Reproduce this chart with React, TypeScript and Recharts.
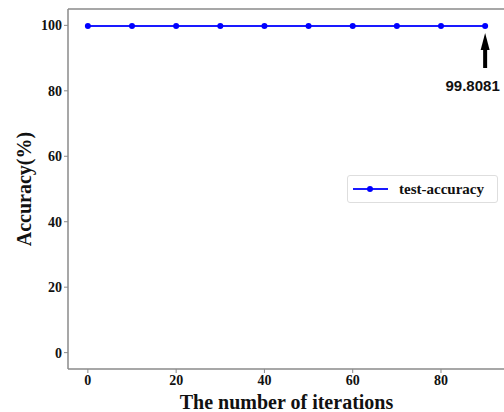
import React from "react";
import {
  LineChart,
  Line,
  XAxis,
  YAxis,
  ReferenceDot,
  ReferenceLine,
} from "recharts";

const iterations = [0, 10, 20, 30, 40, 50, 60, 70, 80, 90];
const testAccuracy = [99.8, 99.8, 99.8, 99.8, 99.8, 99.8, 99.8, 99.8, 99.8, 99.8081];
const xTicks = [0, 20, 40, 60, 80];
const yTicks = [0, 20, 40, 60, 80, 100];
const annotationText = "99.8081";
const seriesName = "test-accuracy";

const data = iterations.map((it, i) => ({ it, acc: testAccuracy[i] }));

const serif = "'Liberation Serif', 'Times New Roman', serif";
const sans = "'Liberation Sans', Arial, sans-serif";
const axisGrey = "#8a8a8a";

const ArrowShape = (props: any) => {
  const { cx, cy } = props;
  if (cx == null || cy == null) return null;
  const tipY = cy + 7;
  const headEnd = tipY + 17;
  const tailY = cy + 42;
  return (
    <g>
      <line x1={cx} y1={headEnd - 2} x2={cx} y2={tailY} stroke="#000" strokeWidth={4} />
      <polygon
        points={`${cx},${tipY} ${cx - 4.5},${headEnd} ${cx + 4.5},${headEnd}`}
        fill="#000"
      />
      <text
        x={cx - 12.5}
        y={cy + 65}
        textAnchor="middle"
        fontFamily={sans}
        fontWeight="bold"
        fontSize={15}
        fill="#111"
      >
        {annotationText}
      </text>
    </g>
  );
};

const LegendBox = () => (
  <div
    style={{
      position: "absolute",
      left: 347,
      top: 175,
      width: 151,
      height: 28,
      boxSizing: "border-box",
      border: "1px solid #dedede",
      borderRadius: 3,
      background: "#fff",
      display: "flex",
      alignItems: "center",
    }}
  >
    <svg width={48} height={26} style={{ display: "block" }}>
      <line x1={5} y1={13} x2={40} y2={13} stroke="#1a1aff" strokeWidth={2} />
      <circle cx={22} cy={13} r={3} fill="#0000ff" />
    </svg>
    <span
      style={{
        fontFamily: serif,
        fontWeight: "bold",
        fontSize: 15,
        color: "#111",
        marginLeft: 3,
      }}
    >
      {seriesName}
    </span>
  </div>
);

export default function App() {
  return (
    <div
      style={{
        position: "fixed",
        left: 0,
        top: 0,
        width: 504,
        height: 412,
        overflow: "hidden",
        background: "#fff",
      }}
    >
      <LineChart
        width={530}
        height={412}
        data={data}
        margin={{ top: 9, right: 25, bottom: 0, left: 0 }}
      >
        <XAxis
          dataKey="it"
          type="number"
          domain={[-4.5, 94.5]}
          ticks={xTicks}
          height={43}
          tickSize={4}
          tickLine={{ stroke: axisGrey }}
          axisLine={{ stroke: axisGrey, strokeWidth: 1.5 }}
          tick={{ fontFamily: serif, fontWeight: "bold", fontSize: 14, fill: "#111" }}
          label={{
            value: "The number of iterations",
            position: "insideBottom",
            offset: 3,
            style: { fontFamily: serif, fontWeight: "bold", fontSize: 20, fill: "#111" },
          }}
        />
        <YAxis
          type="number"
          domain={[-5, 105]}
          ticks={yTicks}
          width={68}
          tickSize={4}
          tickLine={{ stroke: axisGrey }}
          axisLine={{ stroke: axisGrey, strokeWidth: 1.5 }}
          tick={{ fontFamily: serif, fontWeight: "bold", fontSize: 14, fill: "#111" }}
          label={{
            value: "Accuracy(%)",
            angle: -90,
            position: "insideLeft",
            offset: 24,
            style: {
              fontFamily: serif,
              fontWeight: "bold",
              fontSize: 20,
              fill: "#111",
              textAnchor: "middle",
            },
          }}
        />
        <ReferenceLine y={105} stroke={axisGrey} strokeWidth={1.5} ifOverflow="visible" />
        <Line
          dataKey="acc"
          name={seriesName}
          stroke="#1a1aff"
          strokeWidth={2}
          dot={{ r: 3, fill: "#0000ff", stroke: "#0000ff", strokeWidth: 0 }}
          isAnimationActive={false}
        />
        <ReferenceDot
          x={iterations[iterations.length - 1]}
          y={testAccuracy[testAccuracy.length - 1]}
          shape={ArrowShape}
          ifOverflow="visible"
        />
      </LineChart>
      <LegendBox />
    </div>
  );
}
